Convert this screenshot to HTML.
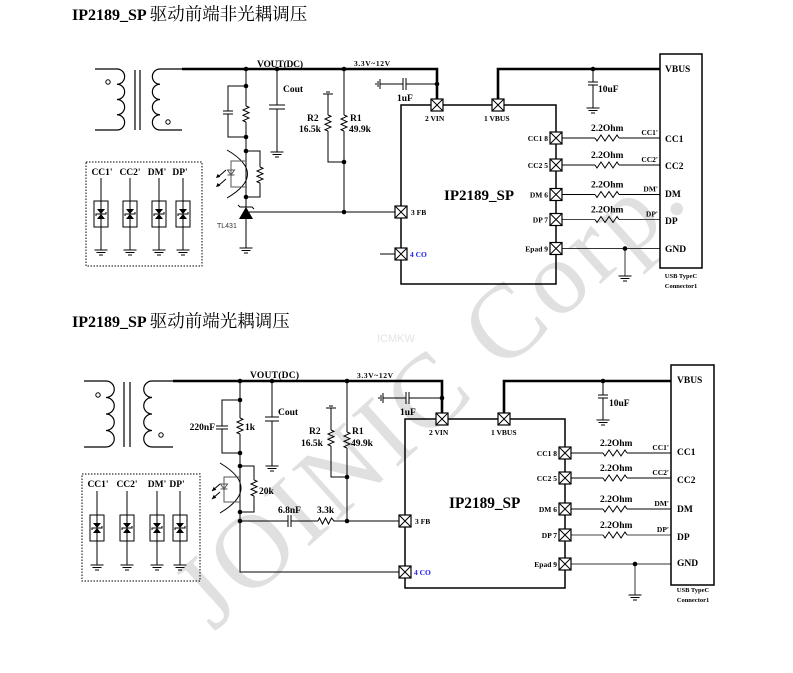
<!DOCTYPE html>
<html><head><meta charset="utf-8">
<style>
html,body{margin:0;padding:0;background:#fff;width:793px;height:673px;overflow:hidden;}
svg{display:block;overflow:hidden;}
text{font-family:"Liberation Serif","Noto Serif CJK SC",serif;font-weight:bold;fill:#000;}
.wm{font-weight:normal;fill:#e0e0e0;font-family:"Liberation Serif",serif;letter-spacing:4.15px;}
.ic{font-weight:normal;fill:#e4e4e4;font-family:"Liberation Sans",sans-serif;font-size:11px;}
.cjk{font-family:"Noto Serif CJK SC","Noto Sans CJK SC",serif;font-weight:normal;font-size:17.5px;}
.s95{font-size:9.5px;}
.s75{font-size:7.5px;}
.s65{font-size:6.5px;}
.blue{fill:#1a1aff;}
.tl{font-family:"Liberation Sans",sans-serif;font-weight:normal;font-size:7px;fill:#333;}
</style></head>
<body>
<svg width="793" height="673" viewBox="0 0 793 673" xmlns="http://www.w3.org/2000/svg">
<defs>
<g id="pin"><rect x="-6" y="-6" width="12" height="12" fill="#fff" stroke="#000" stroke-width="1.2"/><path d="M-6,-6L6,6M6,-6L-6,6" stroke="#000" stroke-width="1" fill="none"/></g>
<g id="gnd"><path d="M-6.5,0H6.5M-4.5,2.5H4.5M-2,5H2" stroke="#000" stroke-width="1" fill="none"/></g>
<circle id="dot" r="2.3" fill="#000"/>
<path id="rv" d="M0,0 L3,1.3 L-3,4 L3,6.7 L-3,9.3 L3,12 L-3,14.7 L0,16" stroke="#000" stroke-width="1" fill="none"/>
<path id="rh" d="M0,0 L2,3 L6,-3 L10,3 L14,-3 L18,3 L22,-3 L24,0" stroke="#000" stroke-width="1" fill="none"/>
<g id="tvs"><rect x="-7" y="0" width="14" height="26" fill="none" stroke="#000" stroke-width="1"/><path d="M-4,8 H4 L0,13 Z M-4,18 H4 L0,13 Z" fill="#000"/><path d="M-5,15 L-5,13 H5 L5,11" stroke="#000" stroke-width="1" fill="none"/></g>
</defs>

<!-- watermark -->
<text class="wm" x="0" y="0" font-size="105" transform="translate(213.5,632.3) rotate(-42)">JOINIC Corp.</text>
<text class="ic" x="377" y="342">ICMKW</text>

<!-- ================= TOP ================= -->
<text x="72" y="20" font-size="16">IP2189_SP <tspan class="cjk">驱动前端非光耦调压</tspan></text>

<g stroke="#000" stroke-width="1.2" fill="none">
<path d="M95,69 H117 a7.6,7.6 0 0 1 0,15.25 a7.6,7.6 0 0 1 0,15.25 a7.6,7.6 0 0 1 0,15.25 a7.6,7.6 0 0 1 0,15.25 H95"/>
<path d="M135,70 V130 M140,70 V130"/>
<path d="M182,69 H160 a7.6,7.6 0 0 0 0,15.25 a7.6,7.6 0 0 0 0,15.25 a7.6,7.6 0 0 0 0,15.25 a7.6,7.6 0 0 0 0,15.25 H182"/>
</g>
<circle cx="108" cy="82" r="2.2" fill="#fff" stroke="#000"/>
<circle cx="168" cy="122" r="2.2" fill="#fff" stroke="#000"/>

<g stroke="#000" stroke-width="2.6" fill="none">
<path d="M182,69 H437 V99"/>
<path d="M498,99 V69 H660"/>
</g>

<g stroke="#000" stroke-width="1" fill="none">
<path d="M246,69 V106 M246,122 V197"/>
<path d="M246,86 H228 V111 M228,114 V137 H246"/>
<path d="M223,111 H233 M223,114 H233"/>
<path d="M277,69 V105 M269,105 H285 M269,109 H285 M277,109 V152"/>
<path d="M246,151 H260 V167 M260,183 V197 H246"/>
<path d="M227,150 Q268,174 227,198"/>
<path d="M246,161 H231 V187 H246" stroke="#555"/>
<path d="M227.5,170 H234.5 L231,175 Z M227.5,175 H234.5" stroke="#555"/>
<path d="M226,170 L218,177 M226,179 L218,186"/>
<path d="M246,197 V219 M246,219 V248"/>
<path d="M238,205 L240,207 H252 L254,209"/>
<path d="M249,212 H395"/>
<path d="M344,69 V115 M344,131 V212"/>
<path d="M323,94 H333 M326,92 H330 M328,94 V115 M328,131 V162 H344"/>
<path d="M380,79 V89 M378,81 V87 M376,83 V85 M380,84 H403 M403,78 V90 M406,78 V90 M406,84 H437"/>
<path d="M380,254 H395"/>
<path d="M562,138 H595 M619,138 H660"/>
<path d="M562,165 H595 M619,165 H660"/>
<path d="M562,194.5 H595 M619,194.5 H660"/>
<path d="M562,219.5 H595 M619,219.5 H660" stroke="#444"/>
<path d="M562,248.5 H660 M625,248.5 V276" stroke="#333"/>
<path d="M593,69 V82 M588,82 H598 M588,85 H598 M593,85 V108"/>
<path d="M101,178 V250 M130,178 V250 M159,178 V250 M183,178 V250"/>
</g>
<polygon points="216,178 220.3,176.9 217.7,173.9" fill="#000"/>
<polygon points="216,187 220.3,185.9 217.7,182.9" fill="#000"/>
<polygon points="246,207 239,219 253,219" fill="#000"/>

<use href="#rv" x="246" y="106"/>
<use href="#rv" x="260" y="167"/>
<use href="#rv" x="344" y="115"/>
<use href="#rv" x="328" y="115"/>
<use href="#rh" x="595" y="138"/>
<use href="#rh" x="595" y="165"/>
<use href="#rh" x="595" y="194.5"/>
<use href="#rh" x="595" y="219.5"/>

<use href="#gnd" x="277" y="152"/>
<use href="#gnd" x="246" y="248"/>
<use href="#gnd" x="593" y="108"/>
<use href="#gnd" x="625" y="276"/>
<use href="#gnd" x="101" y="250"/>
<use href="#gnd" x="130" y="250"/>
<use href="#gnd" x="159" y="250"/>
<use href="#gnd" x="183" y="250"/>

<use href="#dot" x="246" y="69"/>
<use href="#dot" x="277" y="69"/>
<use href="#dot" x="344" y="69"/>
<use href="#dot" x="437" y="84"/>
<use href="#dot" x="246" y="86"/>
<use href="#dot" x="246" y="137"/>
<use href="#dot" x="246" y="151"/>
<use href="#dot" x="246" y="197"/>
<use href="#dot" x="344" y="162"/>
<use href="#dot" x="344" y="212"/>
<use href="#dot" x="593" y="69"/>
<use href="#dot" x="625" y="248.5"/>

<rect x="401" y="105" width="155" height="179" fill="none" stroke="#000" stroke-width="1.5"/>
<use href="#pin" x="437" y="105"/>
<use href="#pin" x="498" y="105"/>
<use href="#pin" x="556" y="138"/>
<use href="#pin" x="556" y="165"/>
<use href="#pin" x="556" y="194.5"/>
<use href="#pin" x="556" y="219.5"/>
<use href="#pin" x="556" y="248.5"/>
<use href="#pin" x="401" y="212"/>
<use href="#pin" x="401" y="254"/>

<rect x="660" y="54" width="42" height="214" fill="none" stroke="#000" stroke-width="1.5"/>
<rect x="86" y="162" width="116" height="104" fill="none" stroke="#000" stroke-width="1" stroke-dasharray="1.5,1.5"/>
<use href="#tvs" x="101" y="201"/>
<use href="#tvs" x="130" y="201"/>
<use href="#tvs" x="159" y="201"/>
<use href="#tvs" x="183" y="201"/>

<text x="257" y="67" class="s95" textLength="46">VOUT(DC)</text>
<text x="354" y="66" class="s75" textLength="36">3.3V~12V</text>
<text x="283" y="92" class="s95">Cout</text>
<text x="350" y="121" class="s95">R1</text>
<text x="349" y="132" class="s95">49.9k</text>
<text x="307" y="121" class="s95">R2</text>
<text x="299" y="132" class="s95">16.5k</text>
<text x="397" y="101" class="s95">1uF</text>
<text x="217" y="228" class="tl">TL431</text>
<text x="425" y="121" class="s75">2  VIN</text>
<text x="484" y="121" class="s75">1  VBUS</text>
<text x="411" y="215" class="s75">3  FB</text>
<text x="410" y="257" class="s75 blue">4  CO</text>
<text x="548" y="141" class="s75" text-anchor="end">CC1  8</text>
<text x="548" y="168" class="s75" text-anchor="end">CC2  5</text>
<text x="548" y="197.5" class="s75" text-anchor="end">DM  6</text>
<text x="548" y="222.5" class="s75" text-anchor="end">DP  7</text>
<text x="548" y="251.5" class="s75" text-anchor="end">Epad 9</text>
<text x="444" y="200" font-size="15">IP2189_SP</text>
<text x="591" y="131" class="s95">2.2Ohm</text>
<text x="591" y="158" class="s95">2.2Ohm</text>
<text x="591" y="187.5" class="s95">2.2Ohm</text>
<text x="591" y="212.5" class="s95">2.2Ohm</text>
<text x="658" y="135" class="s75" text-anchor="end">CC1'</text>
<text x="658" y="162" class="s75" text-anchor="end">CC2'</text>
<text x="658" y="191.5" class="s75" text-anchor="end">DM'</text>
<text x="658" y="216.5" class="s75" text-anchor="end">DP'</text>
<text x="598" y="92" class="s95">10uF</text>
<text x="665" y="72" class="s95">VBUS</text>
<text x="665" y="142" class="s95">CC1</text>
<text x="665" y="169" class="s95">CC2</text>
<text x="665" y="197" class="s95">DM</text>
<text x="665" y="224" class="s95">DP</text>
<text x="665" y="252" class="s95">GND</text>
<text x="681" y="278" class="s65" text-anchor="middle">USB TypeC</text>
<text x="681" y="288" class="s65" text-anchor="middle">Connector1</text>
<text x="102" y="175" class="s95" text-anchor="middle">CC1'</text>
<text x="130" y="175" class="s95" text-anchor="middle">CC2'</text>
<text x="157" y="175" class="s95" text-anchor="middle">DM'</text>
<text x="180" y="175" class="s95" text-anchor="middle">DP'</text>

<!-- ================= BOTTOM ================= -->
<text x="72" y="327" font-size="16">IP2189_SP <tspan class="cjk">驱动前端光耦调压</tspan></text>

<g stroke="#000" stroke-width="1.2" fill="none">
<path d="M84,381 H106 a8.25,8.25 0 0 1 0,16.5 a8.25,8.25 0 0 1 0,16.5 a8.25,8.25 0 0 1 0,16.5 a8.25,8.25 0 0 1 0,16.5 H84"/>
<path d="M124,382 V447 M130,382 V447"/>
<path d="M173,381 H152 a8.25,8.25 0 0 0 0,16.5 a8.25,8.25 0 0 0 0,16.5 a8.25,8.25 0 0 0 0,16.5 a8.25,8.25 0 0 0 0,16.5 H173"/>
</g>
<circle cx="98" cy="395" r="2.2" fill="#fff" stroke="#000"/>
<circle cx="161" cy="435" r="2.2" fill="#fff" stroke="#000"/>

<g stroke="#000" stroke-width="2.6" fill="none">
<path d="M173,381 H442 V413"/>
<path d="M504,413 V381 H671"/>
</g>

<g stroke="#000" stroke-width="1" fill="none">
<path d="M240,381 V418 M240,434 V572 H399" />
<path d="M240,400 H222 V426 M222,429 V453 H240"/>
<path d="M216,426 H228 M216,429 H228"/>
<path d="M272,381 V417 M265,417 H279 M265,421 H279 M272,421 V466"/>
<path d="M240,466 H254 V480 M254,496 V512 H240"/>
<path d="M220,463 Q262,488 220,513"/>
<path d="M240,477 H224 V502 H240" stroke="#555"/>
<path d="M220.5,484 H227.5 L224,489 Z M220.5,489 H227.5" stroke="#555"/>
<path d="M220,484 L212,491 M220,492 L212,499"/>
<path d="M240,521 H288 M288,515 V527 M291,515 V527 M291,521 H318"/>
<path d="M318,521 L319.5,518 L322.5,524 L325.5,518 L328.5,524 L331.5,518 L334,521 H399"/>
<path d="M347,381 V432 M347,448 V521"/>
<path d="M326,408 H336 M329,406 H333 M331,408 V430 M331,446 V477 H347"/>
<path d="M383,393 V403 M381,395 V401 M379,397 V399 M383,398 H406 M406,392 V404 M409,392 V404 M409,398 H442"/>
<path d="M571,453 H603 M627,453 H671"/>
<path d="M571,478 H603 M627,478 H671"/>
<path d="M571,509 H603 M627,509 H671"/>
<path d="M571,535 H603 M627,535 H671" stroke="#444"/>
<path d="M571,564 H671 M635,564 V595" stroke="#333"/>
<path d="M603,381 V395 M598,395 H608 M598,398 H608 M603,398 V420"/>
<path d="M97,491 V565 M127,491 V565 M157,491 V565 M180,491 V565"/>
</g>
<polygon points="212,491 216.3,489.9 213.7,486.9" fill="#000"/>
<polygon points="212,499 216.3,497.9 213.7,494.9" fill="#000"/>

<use href="#rv" x="240" y="418"/>
<use href="#rv" x="254" y="480"/>
<use href="#rv" x="347" y="432"/>
<use href="#rv" x="331" y="430"/>
<use href="#rh" x="603" y="453"/>
<use href="#rh" x="603" y="478"/>
<use href="#rh" x="603" y="509"/>
<use href="#rh" x="603" y="535"/>

<use href="#gnd" x="272" y="466"/>
<use href="#gnd" x="603" y="420"/>
<use href="#gnd" x="635" y="595"/>
<use href="#gnd" x="97" y="565"/>
<use href="#gnd" x="127" y="565"/>
<use href="#gnd" x="157" y="565"/>
<use href="#gnd" x="180" y="565"/>

<use href="#dot" x="240" y="381"/>
<use href="#dot" x="272" y="381"/>
<use href="#dot" x="347" y="381"/>
<use href="#dot" x="442" y="398"/>
<use href="#dot" x="240" y="400"/>
<use href="#dot" x="240" y="453"/>
<use href="#dot" x="240" y="466"/>
<use href="#dot" x="240" y="512"/>
<use href="#dot" x="240" y="521"/>
<use href="#dot" x="347" y="477"/>
<use href="#dot" x="347" y="521"/>
<use href="#dot" x="603" y="381"/>
<use href="#dot" x="635" y="564"/>

<rect x="405" y="419" width="160" height="169" fill="none" stroke="#000" stroke-width="1.5"/>
<use href="#pin" x="442" y="419"/>
<use href="#pin" x="504" y="419"/>
<use href="#pin" x="565" y="453"/>
<use href="#pin" x="565" y="478"/>
<use href="#pin" x="565" y="509"/>
<use href="#pin" x="565" y="535"/>
<use href="#pin" x="565" y="564"/>
<use href="#pin" x="405" y="521"/>
<use href="#pin" x="405" y="572"/>

<rect x="671" y="365" width="43" height="220" fill="none" stroke="#000" stroke-width="1.5"/>
<rect x="82" y="474" width="118" height="107" fill="none" stroke="#000" stroke-width="1" stroke-dasharray="1.5,1.5"/>
<use href="#tvs" x="97" y="515"/>
<use href="#tvs" x="127" y="515"/>
<use href="#tvs" x="157" y="515"/>
<use href="#tvs" x="180" y="515"/>

<text x="250" y="378" class="s95" textLength="49">VOUT(DC)</text>
<text x="357" y="378" class="s75" textLength="36">3.3V~12V</text>
<text x="215" y="430" class="s95" text-anchor="end">220nF</text>
<text x="245" y="430" class="s95">1k</text>
<text x="278" y="415" class="s95">Cout</text>
<text x="259" y="494" class="s95">20k</text>
<text x="278" y="513" class="s95">6.8nF</text>
<text x="317" y="513" class="s95">3.3k</text>
<text x="352" y="434" class="s95">R1</text>
<text x="351" y="446" class="s95">49.9k</text>
<text x="309" y="434" class="s95">R2</text>
<text x="301" y="446" class="s95">16.5k</text>
<text x="400" y="415" class="s95">1uF</text>
<text x="429" y="435" class="s75">2  VIN</text>
<text x="491" y="435" class="s75">1  VBUS</text>
<text x="415" y="524" class="s75">3  FB</text>
<text x="414" y="575" class="s75 blue">4  CO</text>
<text x="557" y="456" class="s75" text-anchor="end">CC1  8</text>
<text x="557" y="481" class="s75" text-anchor="end">CC2  5</text>
<text x="557" y="512" class="s75" text-anchor="end">DM  6</text>
<text x="557" y="538" class="s75" text-anchor="end">DP  7</text>
<text x="557" y="567" class="s75" text-anchor="end">Epad 9</text>
<text x="449" y="508" font-size="15.3">IP2189_SP</text>
<text x="600" y="446" class="s95">2.2Ohm</text>
<text x="600" y="471" class="s95">2.2Ohm</text>
<text x="600" y="502" class="s95">2.2Ohm</text>
<text x="600" y="528" class="s95">2.2Ohm</text>
<text x="669" y="450" class="s75" text-anchor="end">CC1'</text>
<text x="669" y="475" class="s75" text-anchor="end">CC2'</text>
<text x="669" y="506" class="s75" text-anchor="end">DM'</text>
<text x="669" y="532" class="s75" text-anchor="end">DP'</text>
<text x="609" y="406" class="s95">10uF</text>
<text x="677" y="383" class="s95">VBUS</text>
<text x="677" y="455" class="s95">CC1</text>
<text x="677" y="483" class="s95">CC2</text>
<text x="677" y="512" class="s95">DM</text>
<text x="677" y="540" class="s95">DP</text>
<text x="677" y="566" class="s95">GND</text>
<text x="693" y="592" class="s65" text-anchor="middle">USB TypeC</text>
<text x="693" y="602" class="s65" text-anchor="middle">Connector1</text>
<text x="98" y="487" class="s95" text-anchor="middle">CC1'</text>
<text x="127" y="487" class="s95" text-anchor="middle">CC2'</text>
<text x="157" y="487" class="s95" text-anchor="middle">DM'</text>
<text x="177" y="487" class="s95" text-anchor="middle">DP'</text>
</svg>
</body></html>
